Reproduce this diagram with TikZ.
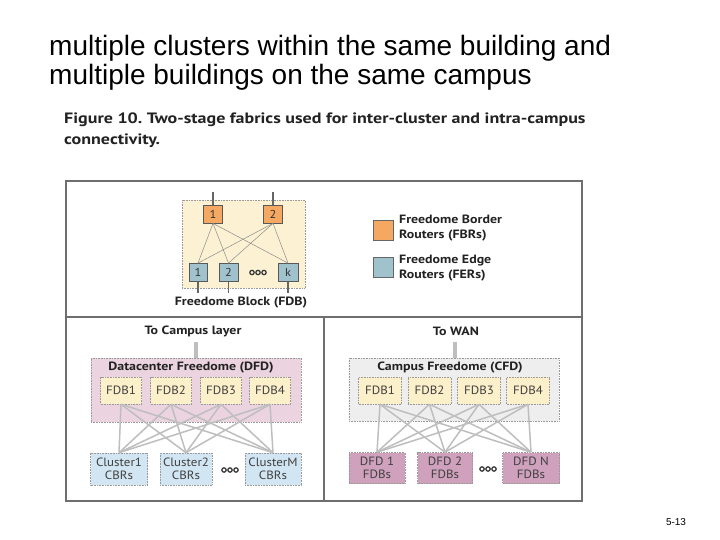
\documentclass[tikz,border=0pt]{standalone}
\usepackage{fontspec}
\setmainfont{Liberation Sans}
\newfontfamily\dg{PT Sans}[FakeStretch=1.08]
\newfontfamily\dgw{PT Sans}[FakeStretch=1.16]
\newfontfamily\capf{PT Sans}[FakeStretch=1.2]
\usetikzlibrary{calc}
\frenchspacing
\definecolor{frame}{HTML}{6E6E6E}
\definecolor{orng}{HTML}{F4A862}
\definecolor{blu}{HTML}{9FC2CD}
\definecolor{fdbbg}{HTML}{FCF1D2}
\definecolor{pinkbg}{HTML}{EBD4DF}
\definecolor{graybg}{HTML}{EEEEEE}
\definecolor{fdbbox}{HTML}{FBF0CA}
\definecolor{clbox}{HTML}{D2E5F2}
\definecolor{dfdbox}{HTML}{CFA1BD}
\definecolor{wire}{HTML}{BEBEBE}
\definecolor{txt}{HTML}{222222}
\begin{document}
\begin{tikzpicture}[x=1pt,y=-1pt,
  router/.style={draw=black!65,line width=0.8pt,inner sep=0pt,minimum height=18pt,font=\dg\fontsize{11.5}{11.5}\selectfont,text=black!80},
  fbr/.style={router,fill=orng},
  fer/.style={router,fill=blu},
  stub/.style={draw=black!60,line width=1.6pt},
  thin/.style={draw=black!45,line width=0.5pt},
  bgbox/.style={draw=black!40,densely dotted,line width=0.6pt},
  small/.style={draw=black!40,densely dotted,line width=0.6pt,inner sep=0pt,font=\dg\fontsize{12}{13.5}\selectfont,text=black!75,align=center},
  lbl/.style={font=\dgw\bfseries\fontsize{12}{15}\selectfont,text=txt,inner sep=0pt},
  mesh/.style={draw=wire,line width=1.5pt},
  upstub/.style={draw=wire,line width=3.5pt}
]
\useasboundingbox (0,0) rectangle (720,540);
\fill[white] (0,0) rectangle (720,540);

% slide title
\node[anchor=west,inner sep=0pt,font=\fontsize{28}{29}\selectfont,align=left] (title) at (49,63)
 {multiple clusters within the same building and\\multiple buildings on the same campus};

% caption
\node[anchor=west,inner sep=0pt,font=\capf\bfseries\fontsize{15}{21}\selectfont,align=left,text=txt] (caption) at (64,130)
 {Figure 10. Two-stage fabrics used for inter-cluster and intra-campus\\connectivity.};

% frame
\draw[frame,line width=2pt] (66,181) rectangle (582,501);
\draw[frame,line width=2pt] (66,317) -- (582,317);
\draw[frame,line width=2pt] (324,317) -- (324,501);

% ---------- top panel: FDB ----------
\node[bgbox,fill=fdbbg,minimum width=123pt,minimum height=88pt,inner sep=0pt] (fdb) at (243.5,244) {};
\node[fbr,minimum width=19pt] (o1) at (213,214) {1};
\node[fbr,minimum width=19pt] (o2) at (273,214) {2};
\node[fer,minimum width=18pt] (b1) at (198,272.5) {1};
\node[fer,minimum width=19pt] (b2) at (228.5,272.5) {2};
\node[fer,minimum width=20pt] (bk) at (288,272.5) {k};
\coordinate (dt) at (258,272.5);
\foreach \dx in {-6,0,6} \draw[black!80,line width=1.2pt] ($(dt)+(\dx,0)$) circle (2.2pt);
\coordinate (o1u) at (213,192);
\coordinate (o2u) at (273,192);
\coordinate (b1d) at (198,293);
\coordinate (b2d) at (228.5,293);
\coordinate (bkd) at (288,293);
\draw[stub] (o1.north) -- (o1u);
\draw[stub] (o2.north) -- (o2u);
\draw[stub] (b1.south) -- (b1d);
\draw[stub] (b2.south) -- (b2d);
\draw[stub] (bk.south) -- (bkd);
\foreach \t in {o1,o2} \foreach \b in {b1,b2,bk} \draw[thin] (\t.south) -- (\b.north);
\node[lbl] (fdblbl) at (241,302.5) {Freedome Block (FDB)};

% legend
\node[draw=black!60,line width=0.8pt,fill=orng,minimum size=20pt,inner sep=0pt] (lgo) at (383,230) {};
\node[draw=black!60,line width=0.8pt,fill=blu,minimum size=20pt,inner sep=0pt] (lgb) at (383,267) {};
\node[lbl,anchor=west,align=left] (lgot) at (399,228) {Freedome Border\\Routers (FBRs)};
\node[lbl,anchor=west,align=left] (lgbt) at (399,268) {Freedome Edge\\Routers (FERs)};

% ---------- bottom left: DFD ----------
\node[lbl] (tocamp) at (193,331) {To Campus layer};
\node[bgbox,fill=pinkbg,minimum width=210pt,minimum height=64pt,inner sep=0pt] (dfd) at (196,390) {};
\draw[upstub] (196,358) -- (196,342);
\node[lbl] (dfdlbl) at (191,368) {Datacenter Freedome (DFD)};
\foreach \i/\x in {1/121,2/171,3/221,4/270}
  \node[small,fill=fdbbox,minimum width=41pt,minimum height=27pt] (lf\i) at (\x,390.5) {FDB\i};
\node[small,fill=clbox,minimum width=57pt,minimum height=32pt] (c1) at (119,469) {Cluster1\\CBRs};
\node[small,fill=clbox,minimum width=52pt,minimum height=32pt] (c2) at (186,469) {Cluster2\\CBRs};
\node[small,fill=clbox,minimum width=56pt,minimum height=32pt] (c3) at (273,469) {ClusterM\\CBRs};
\coordinate (dl) at (230,470);
\foreach \dx in {-6,0,6} \draw[black!80,line width=1.2pt] ($(dl)+(\dx,0)$) circle (2.2pt);
\foreach \i in {1,2,3,4} \foreach \j in {c1,c2,c3} \draw[mesh] (lf\i.south) -- (\j.north);

% ---------- bottom right: CFD ----------
\node[lbl] (towan) at (456,331) {To WAN};
\node[bgbox,fill=graybg,minimum width=210pt,minimum height=63pt,inner sep=0pt] (cfd) at (454,389.5) {};
\draw[upstub] (455,358) -- (455,342);
\node[lbl] (cfdlbl) at (450,368) {Campus Freedome (CFD)};
\foreach \i/\x in {1/380,2/429.5,3/479,4/528}
  \node[small,fill=fdbbox,minimum width=43pt,minimum height=27pt] (rf\i) at (\x,390.5) {FDB\i};
\node[small,fill=dfdbox,minimum width=56pt,minimum height=31pt] (d1) at (377,468) {DFD 1\\FDBs};
\node[small,fill=dfdbox,minimum width=55pt,minimum height=31pt] (d2) at (445,468) {DFD 2\\FDBs};
\node[small,fill=dfdbox,minimum width=57pt,minimum height=31pt] (d3) at (531,468) {DFD N\\FDBs};
\coordinate (dr) at (488,469);
\foreach \dx in {-6,0,6} \draw[black!80,line width=1.2pt] ($(dr)+(\dx,0)$) circle (2.2pt);
\foreach \i in {1,2,3,4} \foreach \j in {d1,d2,d3} \draw[mesh] (rf\i.south) -- (\j.north);

% slide number
\node[font=\fontsize{10}{12}\selectfont,inner sep=0pt] (pg) at (676,522) {5-13};
\end{tikzpicture}
\end{document}
